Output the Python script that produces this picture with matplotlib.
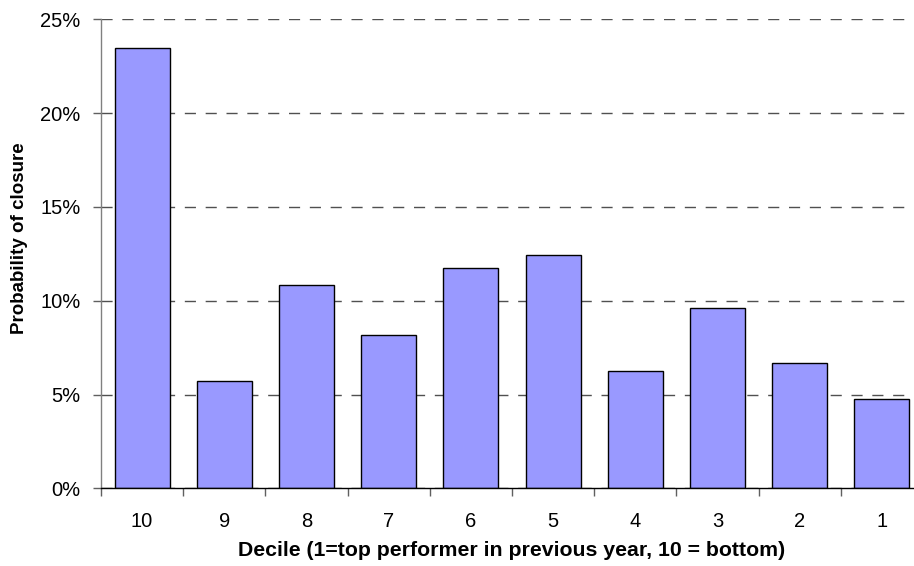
import matplotlib
matplotlib.use("Agg")
import matplotlib.pyplot as plt
from matplotlib.ticker import FixedLocator, FuncFormatter

deciles = ["10", "9", "8", "7", "6", "5", "4", "3", "2", "1"]
probability = [23.45, 5.72, 10.85, 8.15, 11.72, 12.45, 6.24, 9.62, 6.70, 4.77]
y_ticks = [0, 5, 10, 15, 20, 25]

plt.rcParams['font.family'] = ['Liberation Sans', 'DejaVu Sans']

W, H = 914, 566
fig = plt.figure(figsize=(W / 100, H / 100), dpi=100)
left, right = 101, 923
bottom, top = 488.3, 19.3
ax = fig.add_axes([left / W, (H - bottom) / H, (right - left) / W, (bottom - top) / H])

x = list(range(len(deciles)))
ax.bar(x, probability, width=55 / 82.2, color='#9999FF', edgecolor='black', linewidth=1.0, zorder=3)

ax.set_xlim(-0.5, len(deciles) - 0.5)
ax.set_ylim(0, 25)

ax.set_yticks(y_ticks)
ax.yaxis.set_major_formatter(FuncFormatter(lambda v, p: f"{int(v)}%"))
ax.yaxis.grid(True, linestyle=(0, (8, 7)), color='#505050', linewidth=1.0, zorder=0)

ax.xaxis.set_major_locator(FixedLocator([i - 0.5 for i in range(len(deciles) + 1)]))
ax.xaxis.set_major_formatter(FuncFormatter(lambda v, p: ""))
ax.xaxis.set_minor_locator(FixedLocator(x))
ax.set_xticklabels(deciles, minor=True)
ax.tick_params(axis='x', which='minor', length=0, labelsize=14.5, pad=16.8)
ax.tick_params(axis='x', which='major', length=6, width=1, color='#606060', direction='out')
ax.tick_params(axis='y', length=6, width=1, color='#606060', labelsize=14.5, pad=8.8, direction='out')

for s in ['top', 'right']:
    ax.spines[s].set_visible(False)
ax.spines['left'].set_color('#808080')
ax.spines['left'].set_linewidth(1.0)
ax.spines['bottom'].set_color('black')
ax.spines['bottom'].set_linewidth(1.0)
ax.spines['bottom'].set_zorder(4)

fig.text(512 / W, (H - 556.5) / H, "Decile (1=top performer in previous year, 10 = bottom)",
         fontsize=15.3, fontweight='bold', ha='center', va='baseline')
fig.text(20 / W, (H - 238) / H, "Probability of closure", fontsize=13.5, fontweight='bold',
         ha='center', va='center', rotation=90)

fig.savefig("out.png", dpi=100)
